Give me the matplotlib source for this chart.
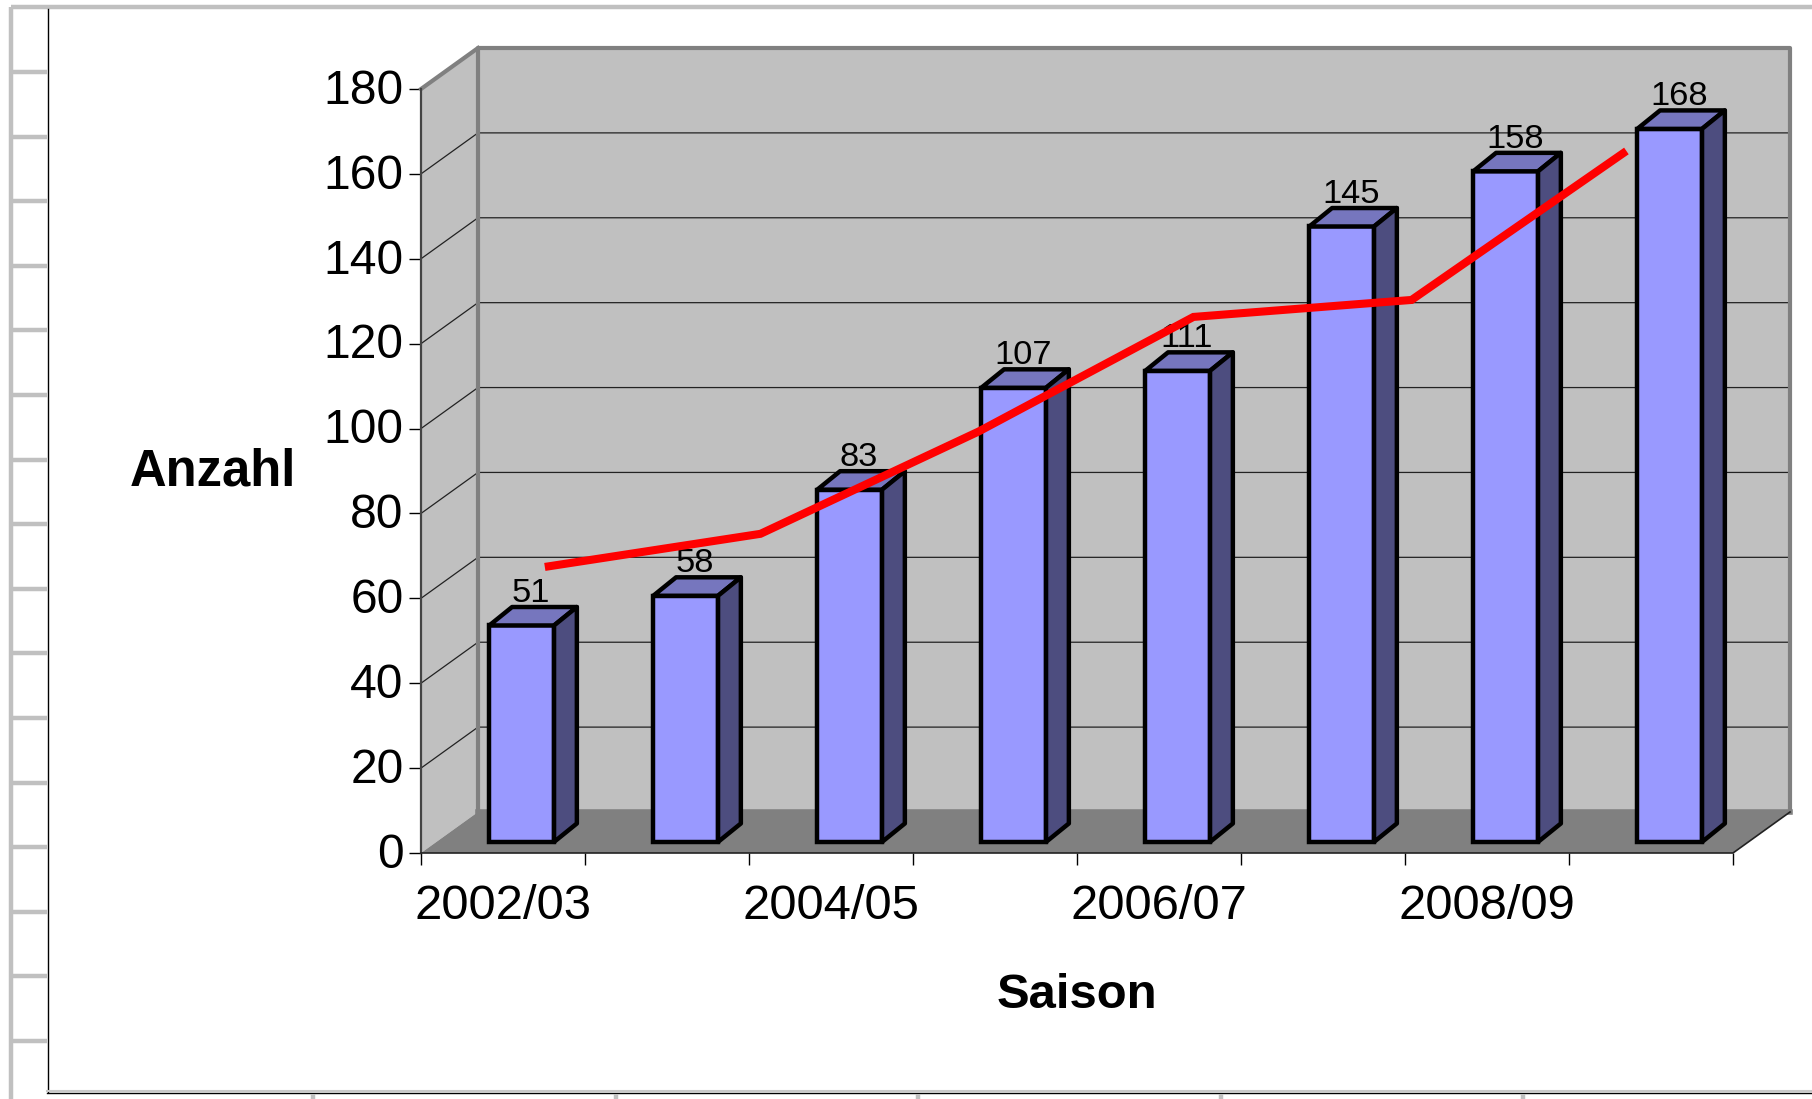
import numpy as np
import matplotlib
matplotlib.use('Agg')
import matplotlib.pyplot as plt
from matplotlib.transforms import ScaledTranslation

plt.rcParams['font.family'] = ['Liberation Sans', 'DejaVu Sans']

seasons = ['2002/03', '2003/04', '2004/05', '2005/06', '2006/07', '2007/08', '2008/09', '2009/10']
counts = [51, 58, 83, 107, 111, 145, 158, 168]
y_ticks = [0, 20, 40, 60, 80, 100, 120, 140, 160, 180]

# red line (position in categories, value)
trend_x = [0.755, 2.07, 3.40, 4.71, 6.04, 7.35]
trend_y = [67.4, 75.2, 99.3, 126.3, 130.3, 165.4]

W, H = 1812, 1099
LEFT, RIGHT, TOP, BOTTOM = 421, 1733, 89, 853  # front plane in pixels

# full depth of the chart box, in category / value units
DEPTH_X = 57 / 164
DEPTH_Y = 41 / ((BOTTOM - TOP) / 180)
BAR_D0 = 0.27
BAR_DX, BAR_DY = 0.40, 0.45
BAR_W = 0.395
BAR_SHIFT = 0.02

WALL = '#C0C0C0'
EDGE = '#808080'
FLOOR = '#808080'
BAR_FRONT = '#9999FF'
BAR_TOP = '#7676BE'
BAR_SIDE = '#4D4D7F'


def proj(x, y, d):
    return x + d * DEPTH_X, y + d * DEPTH_Y


fig = plt.figure(figsize=(W / 100, H / 100), dpi=100, facecolor='white')

# spreadsheet frame behind the chart, in pixels
bg = fig.add_axes([0, 0, 1, 1])
bg.set_xlim(0, W)
bg.set_ylim(H, 0)
bg.axis('off')
bg.plot([11, 11], [7, H], color=WALL, lw=3.2, solid_capstyle='butt')
bg.plot([11, W], [7, 7], color=WALL, lw=3.2, solid_capstyle='butt')
bg.plot([47.5, 47.5], [9, 1092], color='black', lw=1)
bg.plot([47, W], [1091, 1091], color='#C8C8C8', lw=1.5)
bg.plot([47, W], [1093, 1093], color='black', lw=1)
for yy in 72 + 64.6 * np.arange(16):
    bg.plot([11, 47], [yy, yy], color=WALL, lw=3.2, solid_capstyle='butt')
for xx in 313 + 302.6 * np.arange(5):
    bg.plot([xx, xx], [1094, H], color=WALL, lw=3.2, solid_capstyle='butt')

ax = fig.add_axes([LEFT / W, 1 - BOTTOM / H, (RIGHT - LEFT) / W, (BOTTOM - TOP) / H])
ax.patch.set_visible(False)
ax.set_xlim(0, 8)
ax.set_ylim(0, 180)
for s in ax.spines.values():
    s.set_visible(False)

# chart box
n = len(seasons)
x_a, y_a = proj(0, 0, 1)
x_b, y_b = proj(n, 0, 1)
x_c, y_c = proj(0, 180, 1)
x_d, y_d = proj(n, 180, 1)
ax.fill([x_a, x_b, x_d, x_c], [y_a, y_b, y_d, y_c], color=WALL, lw=0, clip_on=False, zorder=1)
ax.fill([0, x_a, x_c, 0], [0, y_a, y_c, 180], color=WALL, lw=0, clip_on=False, zorder=1)
ax.fill([0, n, x_b, x_a], [0, 0, y_b, y_a], color=FLOOR, lw=0, clip_on=False, zorder=1)
for v in y_ticks[1:-1]:
    xs, ys = proj(0, v, 1)
    xe, ye = proj(n, v, 1)
    ax.plot([0, xs, xe], [v, ys, ye], color='#222222', lw=0.9, clip_on=False, zorder=2)
ax.plot([x_a, x_c, x_d, x_b], [y_a, y_c, y_d, y_b], color=EDGE, lw=3, clip_on=False, zorder=2,
        solid_joinstyle='round')
ax.plot([x_a, x_b], [y_a, y_a], color=FLOOR, lw=4, clip_on=False, zorder=2)
ax.plot([0, x_c], [180, y_c], color=EDGE, lw=3, clip_on=False, zorder=2)
ax.plot([0, 0], [0, 180], color='#444444', lw=1.6, clip_on=False, zorder=2)
ax.plot([0, n, x_b], [0, 0, y_b], color='#222222', lw=1.2, clip_on=False, zorder=2)

# bars
positions = np.arange(n) + 0.5 + BAR_SHIFT
base = BAR_D0 * DEPTH_Y
dx = BAR_DX * DEPTH_X
dy = BAR_DY * DEPTH_Y
front_x = positions + BAR_D0 * DEPTH_X
ax.bar(front_x, counts, BAR_W, bottom=base, color=BAR_FRONT, edgecolor='black', linewidth=3.2,
       clip_on=False, zorder=3)
for i, v in enumerate(counts):
    l = front_x[i] - BAR_W / 2
    r = front_x[i] + BAR_W / 2
    t = base + v
    ax.fill([l, r, r + dx, l + dx], [t, t, t + dy, t + dy], facecolor=BAR_TOP, edgecolor='black',
            linewidth=3.2, clip_on=False, zorder=3, joinstyle='round')
    ax.fill([r, r + dx, r + dx, r], [base, base + dy, t + dy, t], facecolor=BAR_SIDE, edgecolor='black',
            linewidth=3.2, clip_on=False, zorder=3, joinstyle='round')
    ax.annotate(str(v), (front_x[i] + dx / 2, t + dy), xytext=(-1.5, -1.5), textcoords='offset points',
                ha='center', va='bottom', fontsize=24.8, color='black', zorder=4, annotation_clip=False)

ax.plot(trend_x, trend_y, color='#FF0000', lw=5.8, solid_capstyle='butt', solid_joinstyle='miter',
        clip_on=False, zorder=5)

# axes
ax.set_yticks(y_ticks)
ax.tick_params(axis='y', direction='out', length=8.5, width=1, pad=4, labelsize=34.6, colors='black')
up = ScaledTranslation(0, 2 / 72, fig.dpi_scale_trans)
for lab in ax.get_yticklabels():
    lab.set_transform(lab.get_transform() + up)
ax.set_xticks(np.arange(n + 1))
ax.set_xticklabels([])
ax.tick_params(axis='x', which='major', direction='out', length=8.5, width=1)
ax.set_xticks(np.arange(0, n, 2) + 0.5, minor=True)
ax.set_xticklabels(seasons[::2], minor=True)
ax.tick_params(axis='x', which='minor', length=0, pad=22.5, labelsize=35.3)

ax.set_ylabel('Anzahl', fontsize=36.5, fontweight='bold', rotation=0, ha='center', va='center')
ax.yaxis.set_label_coords((213 - LEFT) / (RIGHT - LEFT), (BOTTOM - 472) / (BOTTOM - TOP))
ax.set_xlabel('Saison', fontsize=35.3, fontweight='bold', ha='center', va='center')
ax.xaxis.set_label_coords((1077 - LEFT) / (RIGHT - LEFT), (BOTTOM - 995) / (BOTTOM - TOP))

plt.savefig('out.png', dpi=100)
